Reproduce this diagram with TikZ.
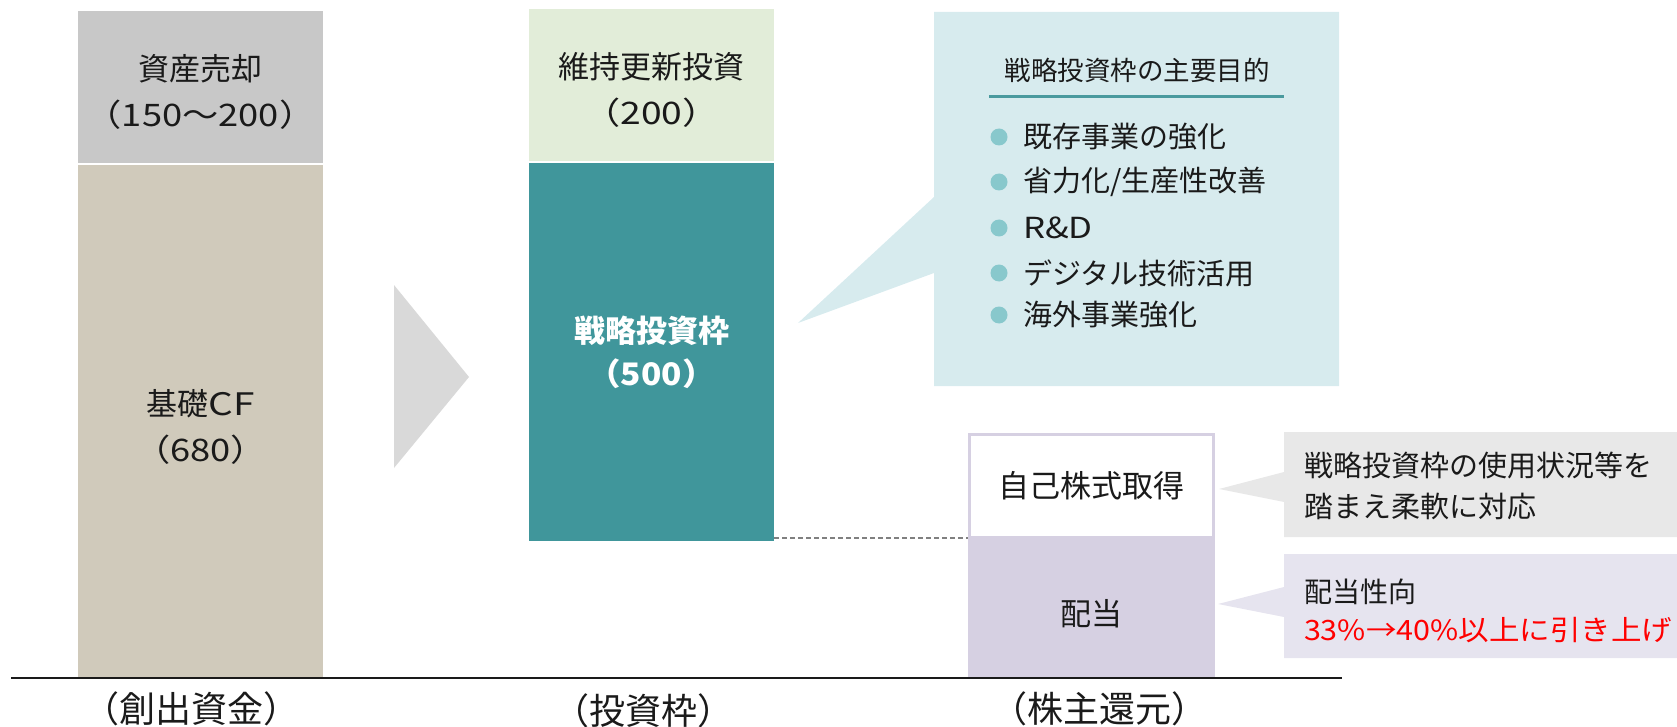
\documentclass[tikz,border=0pt]{standalone}
\usepackage{fontspec}
\setmainfont{Noto Sans CJK JP}
\definecolor{cSale}{HTML}{C8C8C8}
\definecolor{cBase}{HTML}{D0CABB}
\definecolor{cMaint}{HTML}{E2EDD9}
\definecolor{cTeal}{HTML}{40969B}
\definecolor{cGoal}{HTML}{D7EBEE}
\definecolor{cDot}{HTML}{88C8CC}
\definecolor{cLine}{HTML}{4A9A9E}
\definecolor{cArrow}{HTML}{D9D9D9}
\definecolor{cDiv}{HTML}{D6D0E2}
\definecolor{cFlex}{HTML}{E8E8E8}
\definecolor{cPay}{HTML}{E6E4EF}
\definecolor{cTxt}{HTML}{1A1A1A}
\definecolor{cRed}{HTML}{FF0000}
\newcommand\wide[2][1.17]{\scalebox{#1}[1]{#2}}
\begin{document}
\begin{tikzpicture}[x=1pt,y=-1pt,
  every node/.style={inner sep=0pt,outer sep=0pt,text=cTxt},
  bar/.style={anchor=north west,minimum width=245pt},
  bartext/.style={align=center,yshift=-5pt,font=\fontsize{31}{46}\selectfont},
  axislabel/.style={font=\fontsize{36}{40}\selectfont},
  item/.style={anchor=west,font=\fontsize{29}{34}\selectfont},
  dot/.style={fill=cDot,draw=none},
  note/.style={anchor=west,align=left,font=\fontsize{29}{41}\selectfont}]
\useasboundingbox (0,0) rectangle (1677,727);
% left column
\node[bar,fill=cSale,minimum height=152pt] (sale) at (78,11) {};
\node[bartext] (saletxt) at (sale.center) {資産売却\\\wide{（150～200）}};
\node[bar,fill=cBase,minimum height=512pt] (basecf) at (78,165) {};
\node[bartext,yshift=-1pt] (basecftxt) at (basecf.center) {基礎\wide[1.25]{CF}\\\wide{（680）}};
% arrow
\fill[cArrow] (394,285) -- (469,377) -- (394,468) -- cycle;
% middle column
\node[bar,fill=cMaint,minimum height=152pt] (maint) at (529,9) {};
\node[bartext] (mainttxt) at (maint.center) {維持更新投資\\\wide[1.2]{（200）}};
\node[bar,fill=cTeal,minimum height=378pt] (strat) at (529,163) {};
\node[bartext,yshift=5pt,text=white,font=\fontsize{31}{43}\selectfont\bfseries] (strattxt) at (strat.center) {戦略投資枠\\\wide[1.08]{（500）}};
% goals callout
\coordinate (goaltip) at (798,323);
\fill[cGoal] (934,12) -- (1339,12) -- (1339,386) -- (934,386) -- (934,273) -- (goaltip) -- (934,197) -- cycle;
\node[font=\fontsize{26.5}{30}\selectfont] (goaltitle) at (1137,70) {戦略投資枠の主要目的};
\draw[cLine,line width=3pt] (989,97) -- (1284,97);
\foreach \y/\t [count=\i] in {137/{既存事業の強化},182/{省力化/生産性改善},228/{\wide[1.2]{R\&D}},273/{デジタル技術活用},315/{海外事業強化}}{
  \fill[dot] (999,\y) circle (8.5pt);
  \node[item] (goal\i) at (1023,\y) {\t};
}
% right column
\node[anchor=north west,fill=cDiv,minimum width=247pt,minimum height=139pt] (div) at (968,538) {};
\node[bartext,yshift=-1pt] (divtxt) at (div.center) {配当};
\node[anchor=north west,fill=white,draw=cDiv,line width=3pt,minimum width=244pt,minimum height=103pt,font=\fontsize{31}{46}\selectfont] (buyback) at (969.5,434.5) {自己株式取得};
\draw[gray,line width=1.2pt,dash pattern=on 5pt off 3pt] (strat.east |- div.north) -- (div.north west);
% notes
\coordinate (flextip) at (1219,489);
\fill[cFlex] (1284,432) -- (1677,432) -- (1677,537) -- (1284,537) -- (1284,502) -- (flextip) -- (1284,472) -- cycle;
\node[note] (flexnote) at (1304,486) {戦略投資枠の使用状況等を\\踏まえ柔軟に対応};
\coordinate (paytip) at (1218,604);
\fill[cPay] (1284,554) -- (1677,554) -- (1677,658) -- (1284,658) -- (1284,617) -- (paytip) -- (1284,587) -- cycle;
\node[note,font=\fontsize{28}{38}\selectfont] (payout) at (1304,611) {配当性向\\\textcolor{cRed}{\wide[1.09]{33\%→40\%以上に引き上げ}}};
% baseline and axis labels
\draw[cTxt,line width=2pt] (11,678) -- (1342,678);
\node[axislabel] (lab1) at (191,709) {（創出資金）};
\node[axislabel] (lab2) at (643,711) {（投資枠）};
\node[axislabel] (lab3) at (1099,709) {（株主還元）};
\end{tikzpicture}
\end{document}
